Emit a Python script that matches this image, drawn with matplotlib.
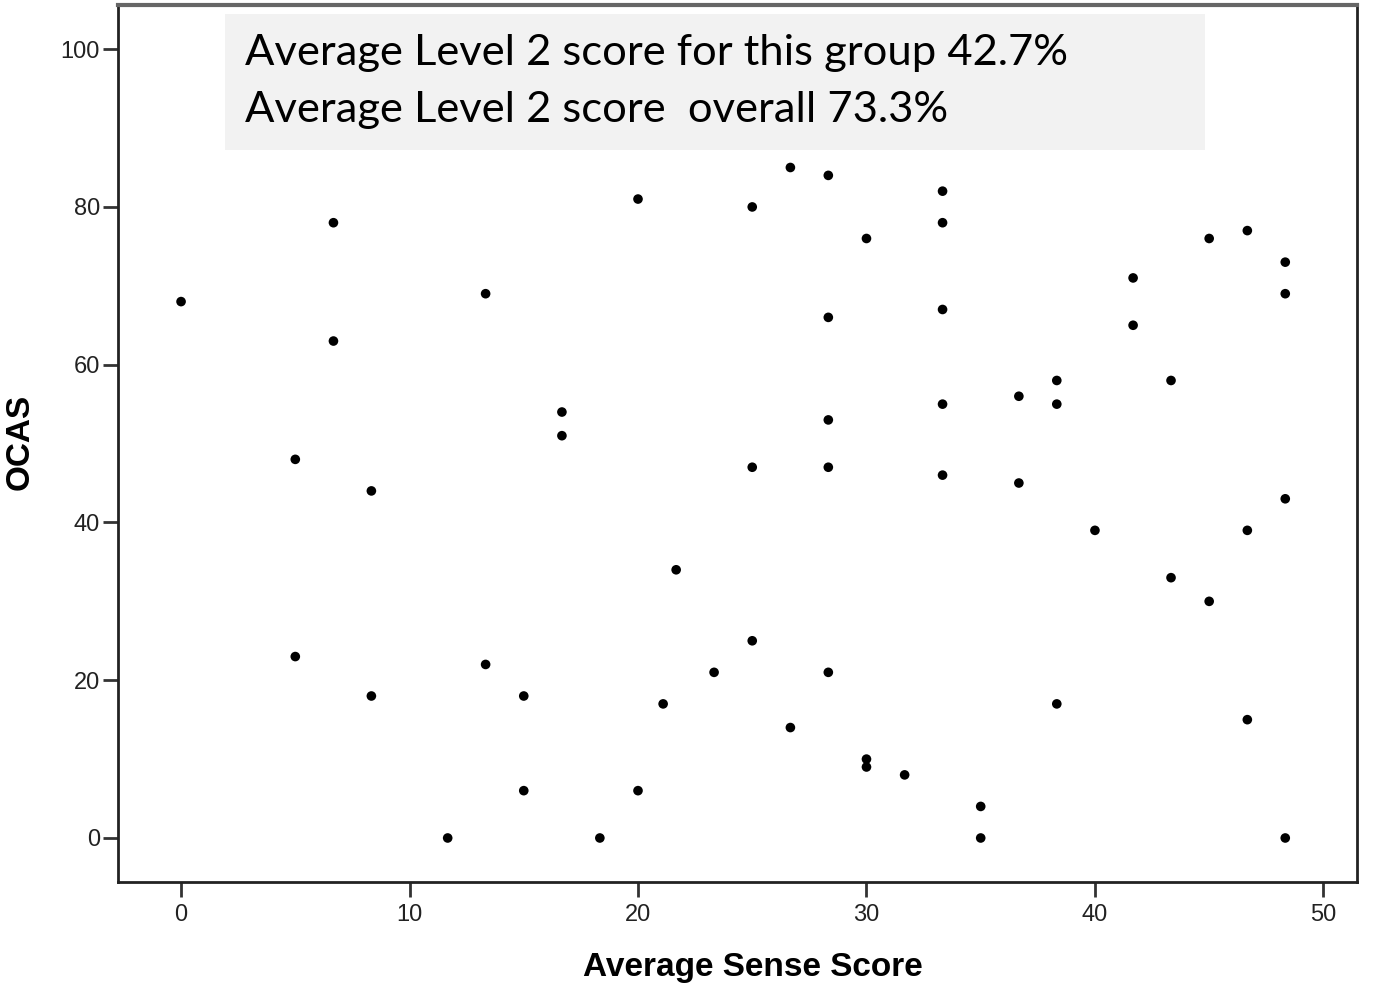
import matplotlib.pyplot as plt

# Average Sense Score (x) and OCAS (y)
sense = [0, 5, 5, 6.67, 6.67, 8.33, 8.33, 11.67, 13.33, 13.33,
         15, 15, 16.67, 16.67, 18.33, 20, 20, 21.1, 21.67, 23.33,
         25, 25, 25, 26.67, 26.67, 28.33, 28.33, 28.33, 28.33, 28.33,
         30, 30, 30, 31.67, 33.33, 33.33, 33.33, 33.33, 33.33, 35,
         35, 36.67, 36.67, 38.33, 38.33, 38.33, 40, 41.67, 41.67, 43.33,
         43.33, 45, 45, 46.67, 46.67, 46.67, 48.33, 48.33, 48.33, 48.33]
ocas = [68, 48, 23, 78, 63, 44, 18, 0, 69, 22,
        18, 6, 54, 51, 0, 81, 6, 17, 34, 21,
        80, 47, 25, 85, 14, 84, 66, 53, 47, 21,
        76, 10, 9, 8, 82, 78, 67, 55, 46, 4,
        0, 56, 45, 58, 55, 17, 39, 71, 65, 58,
        33, 76, 30, 77, 39, 15, 73, 69, 43, 0]

note_lines = ["Average Level 2 score for this group 42.7%",
              "Average Level 2 score  overall 73.3%"]

fig = plt.figure(figsize=(13.9, 9.89), dpi=100)
ax = fig.add_axes([118 / 1390, 1 - 882 / 989, (1357 - 118) / 1390, (882 - 5) / 989])

ax.scatter(sense, ocas, s=48, color='black', edgecolors='none', zorder=3)

ax.set_xlim(-2.76, 51.47)
ax.set_ylim(-5.58, 105.6)
ax.set_xticks([0, 10, 20, 30, 40, 50])
ax.set_yticks([0, 20, 40, 60, 80, 100])

for sp in ax.spines.values():
    sp.set_linewidth(2)
    sp.set_color('#222222')
ax.spines['top'].set_color('#666666')
ax.spines['top'].set_linewidth(3)

ax.tick_params(direction='out', length=11, width=2, color='#333333',
               labelsize=17, labelcolor='#222222')
ax.tick_params(axis='y', pad=2)
ax.tick_params(axis='x', pad=5)
for lab in ax.get_xticklabels() + ax.get_yticklabels():
    lab.set_family('Liberation Sans')

ax.set_xlabel('Average Sense Score', fontsize=24, fontweight='bold',
              family='Liberation Sans')
ax.set_ylabel('OCAS', fontsize=24, fontweight='bold',
              family='Liberation Sans')
ax.xaxis.set_label_coords(0.5125, -0.097)
ax.yaxis.set_label_coords(-0.079, 0.502)
ax.xaxis.label.set_va('center')
ax.yaxis.label.set_va('center')

# grey note box at the top
box = plt.Rectangle((225 / 1390, 1 - 150 / 989), (1205 - 225) / 1390, (150 - 14) / 989,
                    transform=fig.transFigure, facecolor='#f2f2f2',
                    edgecolor='none', zorder=5)
fig.patches.append(box)
for i, line in enumerate(note_lines):
    fig.text(245 / 1390, 1 - (53 + 57 * i) / 989, line, fontsize=31.3,
             family='Lato', va='center', ha='left', color='black', zorder=6)

fig.savefig('out.png', dpi=100)
